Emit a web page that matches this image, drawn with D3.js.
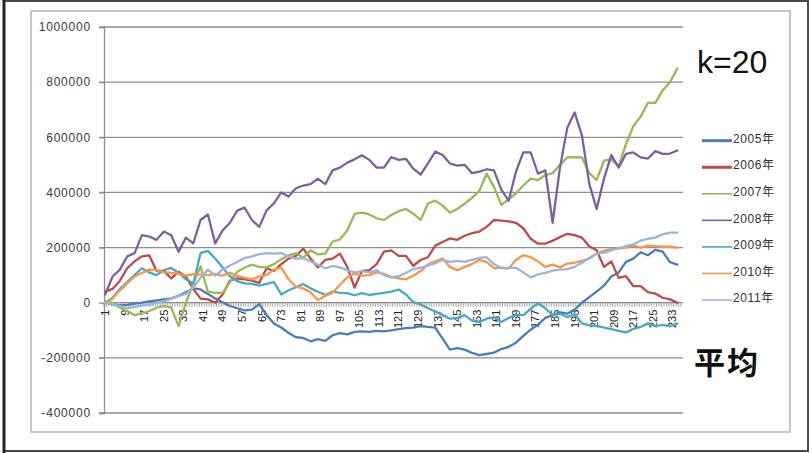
<!DOCTYPE html>
<html>
<head>
<meta charset="utf-8">
<script src="https://cdnjs.cloudflare.com/ajax/libs/d3/7.8.5/d3.min.js"></script>
<style>
	body { margin: 0; background: #fff; }
	svg { display: block; }
</style>
</head>
<body>
<svg id="chart" width="812" height="453"></svg>
<script>
var STEP = 3;
var DAYS = 236;
var UNIT = 1000;

var names = ["2005年", "2006年", "2007年", "2008年", "2009年", "2010年", "2011年"];
var colors = ["#4a7ebb", "#be4b48", "#98b954", "#7d60a0", "#46aac5", "#f79646", "#9ab5dc"];
var legendWidths = [3, 3, 1.6, 1.6, 1.6, 1.6, 1.6];

var s2005 = [0,-5,-10,-8,-3,0,5,8,12,16,
	25,38,52,48,32,15,2,-12,-20,-28,
	-25,-5,-45,-75,-90,-110,-125,-128,-140,-132,
	-138,-118,-110,-115,-106,-104,-106,-102,-104,-100,
	-96,-92,-90,-85,-88,-90,-130,-170,-165,-170,
	-182,-190,-186,-181,-168,-160,-145,-120,-98,-80,
	-55,-45,-35,-40,-25,0,20,40,62,95,
	110,148,160,183,172,192,185,147,138];
var s2006 = [40,50,80,125,150,168,172,115,115,88,
	112,95,50,15,12,0,30,80,88,85,
	80,72,125,115,140,160,170,196,160,128,
	155,160,178,130,55,115,118,140,185,190,
	170,170,134,155,165,207,220,233,228,243,
	252,258,275,300,298,295,290,270,232,214,
	214,225,238,250,245,236,205,190,130,150,
	90,96,60,60,38,33,18,12,0];
var s2007 = [5,0,-18,-30,-45,-40,-30,-18,-12,-18,
	-85,0,69,132,40,36,36,75,112,127,
	138,130,128,140,158,172,180,163,190,175,
	178,222,230,262,322,327,320,306,300,318,
	332,340,323,300,360,370,352,327,340,359,
	380,405,468,420,355,375,397,425,450,445,
	463,470,500,527,528,527,470,445,515,520,
	495,575,640,675,725,725,770,800,850];
var s2008 = [30,95,120,168,180,245,240,228,258,245,
	185,236,215,300,320,215,262,290,334,345,
	300,275,335,360,400,385,415,425,430,450,
	430,480,490,508,520,535,518,490,490,528,
	518,522,486,465,505,548,536,505,497,500,
	470,475,484,480,410,370,475,545,545,468,
	480,290,490,635,690,606,430,340,450,535,
	490,540,545,527,523,550,540,541,552];
var s2009 = [0,18,50,75,100,125,110,100,118,126,
	108,85,70,180,188,160,128,96,78,70,
	68,62,68,75,30,45,56,68,52,40,
	28,40,36,35,27,35,28,32,36,40,
	48,30,2,-6,-20,-32,-45,-58,-55,-45,
	-65,-70,-58,-52,-70,-55,-45,-45,-22,-2,
	-20,-45,-40,-52,-42,-75,-82,-84,-90,-96,
	-102,-108,-95,-88,-75,-85,-80,-85,-76];
var s2010 = [0,15,45,70,95,108,120,118,110,108,
	105,98,104,102,100,104,98,108,97,90,
	85,95,100,120,127,85,58,52,38,10,
	25,36,65,92,106,98,100,110,105,93,
	88,85,98,115,138,150,160,130,118,130,
	140,155,148,125,127,124,155,172,165,150,
	130,138,128,142,145,152,160,178,188,195,
	196,200,207,200,207,205,203,203,200];
var s2011 = [0,-5,-12,-20,-15,-10,-8,0,5,15,
	25,32,55,90,120,98,120,135,148,162,
	168,176,180,178,180,168,160,162,150,138,
	125,133,128,118,110,115,110,118,100,92,
	96,108,122,127,135,143,155,148,152,148,
	155,163,165,140,125,126,127,110,92,103,
	108,116,120,122,130,145,163,178,182,190,
	198,205,212,225,232,236,248,254,254];

var yTicks = [-400000, -200000, 0, 200000, 400000, 600000, 800000, 1000000];
var LABEL_EVERY = 8;
var TITLE = "k=20";
var NOTE = "平均";

var series = [s2005, s2006, s2007, s2008, s2009, s2010, s2011];

// plot area
var LEFT = 104, RIGHT = 681, TOP = 27, BOTTOM = 413;

var svg = d3.select("#chart");

// frames
svg.append("rect")
	.attr("x", 4).attr("y", 1)
	.attr("width", 804).attr("height", 450)
	.attr("fill", "#fff")
	.attr("stroke", "#4a4a4a")
	.attr("stroke-width", 2);
svg.append("line")
	.attr("x1", 4).attr("x2", 4)
	.attr("y1", 0).attr("y2", 453)
	.attr("stroke", "#222")
	.attr("stroke-width", 3);
svg.append("rect")
	.attr("x", 31).attr("y", 11)
	.attr("width", 759).attr("height", 421)
	.attr("fill", "none")
	.attr("stroke", "#b4b4b4")
	.attr("stroke-width", 1.5);

var days = d3.range(1, DAYS + 1);
var x = d3.scaleBand().domain(days).range([LEFT, RIGHT]);
var y = d3.scaleLinear().domain([-400000, 1000000]).range([BOTTOM, TOP]);

function xc(day) { return x(day) + x.bandwidth() / 2; }

// gridlines
svg.append("g")
	.selectAll("line")
	.data(yTicks.filter(function(d) { return d != 0; }))
	.enter()
	.append("line")
	.attr("x1", LEFT - 5)
	.attr("x2", RIGHT + 2)
	.attr("y1", function(d) { return y(d); })
	.attr("y2", function(d) { return y(d); })
	.attr("stroke", "#8e8e8e")
	.attr("stroke-width", 1.3);

// y axis
var yAxis = svg.append("g")
	.attr("transform", "translate(" + LEFT + ",0)")
	.call(d3.axisLeft(y).tickValues(yTicks).tickSize(5).tickPadding(8).tickFormat(d3.format("d")));
yAxis.select(".domain").attr("stroke", "#8e8e8e").attr("stroke-width", 1.3);
yAxis.selectAll(".tick line").attr("stroke", "#8e8e8e").attr("stroke-width", 1.3);
yAxis.selectAll("text")
	.text(function(d) { return String(d); })
	.attr("fill", "#3a3a3a")
	.attr("font-family", "Liberation Sans, Arial, sans-serif")
	.attr("font-size", "12px")
	.attr("letter-spacing", "0.8px");

// x axis: a tick at every day boundary, a label every 8th day
var xg = svg.append("g");
xg.append("line")
	.attr("x1", LEFT).attr("x2", RIGHT + 2)
	.attr("y1", y(0)).attr("y2", y(0))
	.attr("stroke", "#8e8e8e")
	.attr("stroke-width", 1.3);
xg.selectAll(".xt")
	.data(days.concat([DAYS + 1]))
	.enter()
	.append("line")
	.attr("class", "xt")
	.attr("x1", function(d) { return d > DAYS ? RIGHT : x(d); })
	.attr("x2", function(d) { return d > DAYS ? RIGHT : x(d); })
	.attr("y1", y(0))
	.attr("y2", y(0) + 4)
	.attr("stroke", "#8e8e8e")
	.attr("stroke-width", 0.8);
xg.selectAll(".xl")
	.data(days.filter(function(d) { return (d - 1) % LABEL_EVERY == 0; }))
	.enter()
	.append("text")
	.attr("class", "xl")
	.attr("transform", function(d) { return "translate(" + xc(d) + "," + (y(0) + 7) + ") rotate(-90)"; })
	.attr("text-anchor", "end")
	.attr("dy", "0.35em")
	.attr("fill", "#222")
	.attr("font-family", "Liberation Sans, Arial, sans-serif")
	.attr("font-size", "11px")
	.text(function(d) { return d; });

// series lines
var line = d3.line()
	.x(function(d, i) { return xc(1 + STEP * i); })
	.y(function(d) { return y(d * UNIT); })
	.curve(d3.curveLinear);

svg.append("g")
	.selectAll("path")
	.data(series)
	.enter()
	.append("path")
	.attr("d", line)
	.attr("fill", "none")
	.attr("stroke", function(d, i) { return colors[i]; })
	.attr("stroke-width", 2.3)
	.attr("stroke-linejoin", "round")
	.attr("stroke-linecap", "round");

// legend
var legend = svg.append("g")
	.selectAll("g")
	.data(names)
	.enter()
	.append("g")
	.attr("transform", function(d, i) { return "translate(702," + (140.7 + 26.55 * i) + ")"; });
legend.append("line")
	.attr("x1", 0).attr("x2", 30)
	.attr("stroke", function(d, i) { return colors[i]; })
	.attr("stroke-width", function(d, i) { return legendWidths[i]; });
legend.append("text")
	.attr("x", 31)
	.attr("y", -2)
	.attr("dy", "0.35em")
	.attr("fill", "#333")
	.attr("font-family", "Liberation Sans, Noto Sans CJK SC, sans-serif")
	.attr("font-size", "12px")
	.attr("letter-spacing", "0.6px")
	.text(function(d) { return d; });

// side notes
svg.append("text")
	.attr("x", 697).attr("y", 73)
	.attr("fill", "#111")
	.attr("font-family", "Liberation Sans, Arial, sans-serif")
	.attr("font-size", "32px")
	.text(TITLE);
svg.append("text")
	.attr("x", 694).attr("y", 374)
	.attr("fill", "#111")
	.attr("font-family", "Noto Sans CJK SC, sans-serif")
	.attr("font-size", "31px")
	.attr("font-weight", "bold")
	.attr("letter-spacing", "2px")
	.text(NOTE);
</script>
</body>
</html>
